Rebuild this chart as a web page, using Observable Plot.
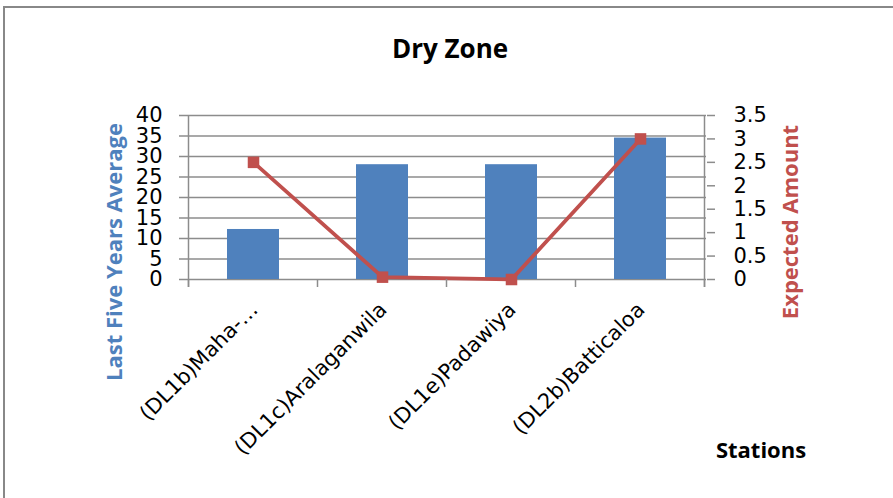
<!DOCTYPE html>
<html>
<head>
<meta charset="utf-8">
<script src="https://cdn.jsdelivr.net/npm/d3@7"></script>
<script src="https://cdn.jsdelivr.net/npm/@observablehq/plot@0.6"></script>
<style>
  html, body { margin: 0; padding: 0; background: #fff; }
  #chart { position: relative; width: 893px; height: 498px; }
</style>
</head>
<body>
<div id="chart"></div>
<script>
// ---- data ----
const stations = ["(DL1b)Maha-…", "(DL1c)Aralaganwila", "(DL1e)Padawiya", "(DL2b)Batticaloa"];
const lastFiveYearsAverage = [12.2, 28, 28, 34.5];
const expectedAmount = [2.5, 0.05, 0, 3];
const leftTicks = [0, 5, 10, 15, 20, 25, 30, 35, 40];
const rightTicks = [0, 0.5, 1, 1.5, 2, 2.5, 3, 3.5];
const title = "Dry Zone";
const leftTitle = "Last Five Years Average";
const rightTitle = "Expected Amount";
const xTitle = "Stations";

const leftMax = 40, rightMax = 3.5;
const k = leftMax / rightMax; // map secondary axis onto primary y scale

const barData = stations.map((s, i) => ({station: s, value: lastFiveYearsAverage[i]}));
const lineData = stations.map((s, i) => ({station: s, value: expectedAmount[i], y: expectedAmount[i] * k}));

const font = "'DejaVu Sans', sans-serif";
const boldFont = "'Open Sans', Lato, sans-serif";
const blue = "#4F81BD", red = "#C0504D", grid = "#8C8C8C";

const plot = Plot.plot({
  width: 893,
  height: 498,
  marginLeft: 187,
  marginRight: 187,
  marginTop: 115,
  marginBottom: 219,
  style: {fontFamily: font, fontSize: "21px", color: "#000", background: "#fff"},
  x: {domain: stations, paddingInner: 0.6, paddingOuter: 0.3, label: null},
  y: {domain: [0, leftMax], label: null},
  marks: [
    // horizontal gridlines, extending into the tick area
    Plot.ruleY(leftTicks, {stroke: grid, strokeWidth: 1.5, insetLeft: -8}),
    Plot.barY(barData, {x: "station", y: "value", fill: blue}),
    Plot.axisY(leftTicks, {anchor: "left", tickSize: 0, tickPadding: 25, fontSize: 21, label: null}),
    Plot.axisY(rightTicks.map(v => v * k), {
      anchor: "right", tickSize: 8, stroke: grid, strokeWidth: 1.5, tickPadding: 19,
      tickFormat: d => String(+(d / k).toFixed(2)), fontSize: 21, label: null
    }),
    Plot.axisX({tickSize: 0, tickFormat: () => "", label: null}),
    Plot.line(lineData, {x: "station", y: "y", stroke: red, strokeWidth: 3.8}),
    Plot.dot(lineData, {x: "station", y: "y", symbol: "square", r: 6.5, fill: red, stroke: red, strokeWidth: 0})
  ]
});

document.getElementById("chart").appendChild(plot);

const svg = d3.select(plot);
const xs = plot.scale("x");
const ys = plot.scale("y");
const y0 = ys.apply(0), yTop = ys.apply(leftMax);
const half = (xs.step) / 2;
const centers = stations.map(s => xs.apply(s) + xs.bandwidth / 2);
const bounds = [centers[0] - half, ...centers.map(c => c + half)];
const xLeft = bounds[0], xRight = bounds[bounds.length - 1];

// outer border (top + left edges visible)
svg.insert("rect", ":first-child")
  .attr("x", 4).attr("y", 7).attr("width", 900).attr("height", 500)
  .attr("fill", "none").attr("stroke", "#888").attr("stroke-width", 2);

const axes = svg.append("g").attr("stroke", grid).attr("stroke-width", 1.5);
// vertical axis lines
axes.append("line").attr("x1", xLeft).attr("x2", xLeft).attr("y1", yTop).attr("y2", y0 + 8);
axes.append("line").attr("x1", xRight).attr("x2", xRight).attr("y1", yTop).attr("y2", y0 + 8);
// category boundary ticks
bounds.forEach(b => axes.append("line").attr("x1", b).attr("x2", b).attr("y1", y0).attr("y2", y0 + 8));

// rotated category labels
const lab = svg.append("g").attr("font-family", font).attr("font-size", 21).attr("fill", "#000");
centers.forEach((c, i) => {
  lab.append("text")
    .attr("text-anchor", "end")
    .attr("transform", `translate(${c + 6},${y0 + 32}) rotate(-45)`)
    .text(stations[i]);
});

// titles
svg.append("text").attr("x", 450).attr("y", 58).attr("text-anchor", "middle")
  .attr("font-family", boldFont).attr("font-weight", "bold").attr("font-size", 26).attr("fill", "#000").text(title);
svg.append("text").attr("transform", `translate(122,252) rotate(-90)`).attr("text-anchor", "middle")
  .attr("font-family", boldFont).attr("font-weight", "bold").attr("font-size", 22).attr("fill", blue).text(leftTitle);
svg.append("text").attr("transform", `translate(798,222) rotate(-90)`).attr("text-anchor", "middle")
  .attr("font-family", boldFont).attr("font-weight", "bold").attr("font-size", 22).attr("fill", red).text(rightTitle);
svg.append("text").attr("x", 761).attr("y", 458).attr("text-anchor", "middle")
  .attr("font-family", boldFont).attr("font-weight", "bold").attr("font-size", 22).attr("fill", "#000").text(xTitle);
</script>
</body>
</html>
